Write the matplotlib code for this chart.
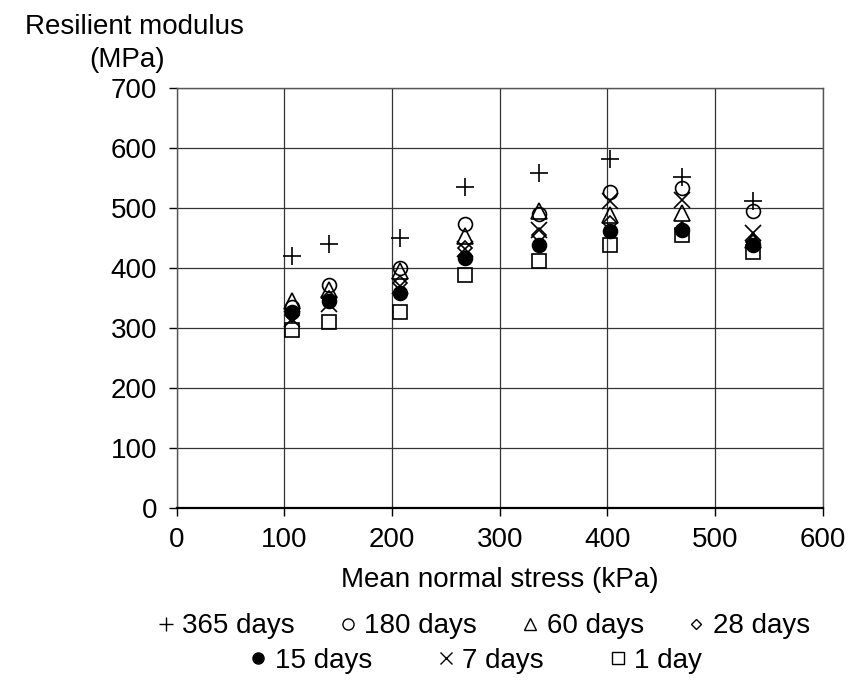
import numpy as np
import matplotlib.pyplot as plt
from matplotlib.lines import Line2D

plt.rcParams['font.family'] = ['Liberation Sans', 'DejaVu Sans']

# mean normal stress (kPa)
stress = [107, 141, 207, 268, 336, 402, 469, 535]

# resilient modulus (MPa) per curing time
m365 = [419, 439, 449, 534, 558, 581, 552, 511]
m180 = [335, 372, 400, 473, 490, 527, 533, 494]
m60 = [344, 363, 394, 453, 494, 488, 491, 447]
m28 = [322, 350, 375, 433, 455, 474, 465, 443]
m15 = [327, 344, 358, 416, 438, 461, 463, 438]
m7 = [315, 340, 369, 431, 463, 511, 513, 458]
m1 = [297, 309, 327, 388, 411, 438, 455, 427]

labels = ['365 days', '180 days', '60 days', '28 days', '15 days', '7 days', '1 day']
series = [m365, m180, m60, m28, m15, m7, m1]
markers = ['+', 'o', '^', 'D', 'o', 'x', 's']
fills = ['none', 'none', 'none', 'none', 'black', 'none', 'none']
sizes = [13, 10, 11, 7, 10, 11, 10]

fig = plt.figure(figsize=(8.58, 6.80), dpi=100)
ax = fig.add_axes([0.206, 0.253, 0.753, 0.618])

handles = []
for vals, lab, mk, fc, ms in zip(series, labels, markers, fills, sizes):
    ax.plot(stress, vals, linestyle='none', marker=mk, markersize=ms,
            markerfacecolor=fc, markeredgecolor='black', markeredgewidth=1.2,
            color='black', zorder=3)
    handles.append(Line2D([], [], linestyle='none', marker=mk, markersize=ms * 0.8,
                          markerfacecolor=fc, markeredgecolor='black',
                          markeredgewidth=1.0, color='black', label=lab))

ax.set_xlim(0, 600)
ax.set_ylim(0, 700)
ax.set_xticks(np.arange(0, 601, 100))
ax.set_yticks(np.arange(0, 701, 100))
ax.grid(True, color='#333333', linewidth=0.9)
ax.set_axisbelow(True)
for s in ax.spines.values():
    s.set_color('#555555')
    s.set_linewidth(1.0)
ax.spines['bottom'].set_color('black')
ax.spines['bottom'].set_linewidth(1.6)
ax.tick_params(labelsize=20, length=6, width=1.0, pad=8, direction='out')

ax.set_xlabel('Mean normal stress (kPa)', fontsize=20, labelpad=10)
fig.text(0.029, 0.96, 'Resilient modulus', fontsize=20, ha='left', va='center')
fig.text(0.148, 0.912, '(MPa)', fontsize=20, ha='center', va='center')

kw = dict(frameon=False, fontsize=20, handlelength=0.7, handletextpad=0.25, borderpad=0)
fig.legend(handles=handles[:4], loc='center', bbox_to_anchor=(0.563, 0.079),
           ncol=4, columnspacing=1.55, **kw)
fig.legend(handles=handles[4:], loc='center', bbox_to_anchor=(0.554, 0.028),
           ncol=3, columnspacing=2.3, **kw)

fig.savefig('out.png', dpi=100)
